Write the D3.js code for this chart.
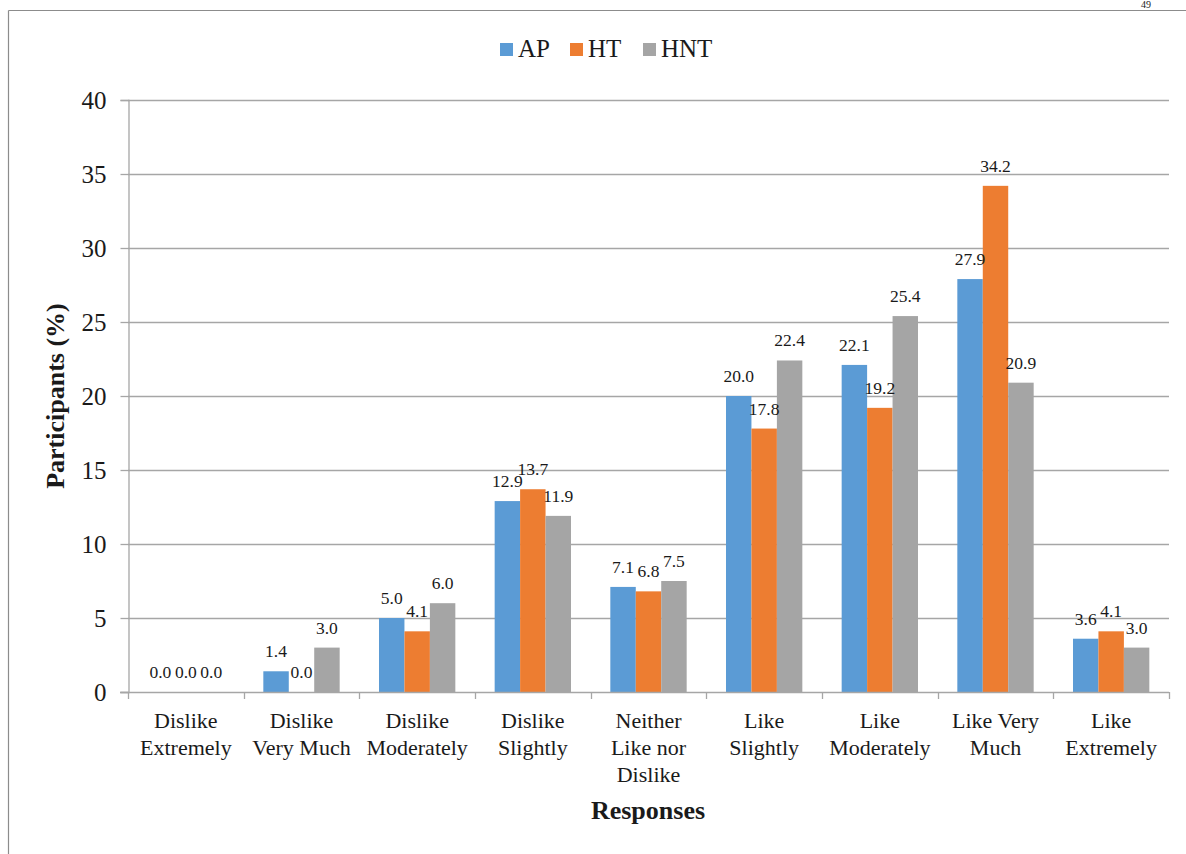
<!DOCTYPE html>
<html>
<head>
<meta charset="utf-8">
<script src="https://cdn.jsdelivr.net/npm/d3@7"></script>
<style>
  html, body { margin: 0; padding: 0; background: #fff; }
  svg { display: block; }
</style>
</head>
<body>
<svg id="chart" width="1186" height="854"></svg>
<script>
// Hedonic rating responses, percentage of participants per group
const categories = [
  "Dislike\nExtremely",
  "Dislike\nVery Much",
  "Dislike\nModerately",
  "Dislike\nSlightly",
  "Neither\nLike nor\nDislike",
  "Like\nSlightly",
  "Like\nModerately",
  "Like Very\nMuch",
  "Like\nExtremely"
];
const seriesNames = ["AP", "HT", "HNT"];
const apValues  = [0.0, 1.4, 5.0, 12.9, 7.1, 20.0, 22.1, 27.9, 3.6];
const htValues  = [0.0, 0.0, 4.1, 13.7, 6.8, 17.8, 19.2, 34.2, 4.1];
const hntValues = [0.0, 3.0, 6.0, 11.9, 7.5, 22.4, 25.4, 20.9, 3.0];
const yTicks = [0, 5, 10, 15, 20, 25, 30, 35, 40];

const seriesValues = [apValues, htValues, hntValues];
const colors = ["#5B9BD5", "#ED7D31", "#A5A5A5"];
const axisColor = "#a6a6a6";
const serif = "'Liberation Serif', 'Times New Roman', serif";
const ink = "#1a1a1a";

const svg = d3.select("#chart");

// apply the serif face to a text selection
function face(sel, size, weight) {
  return sel.style("font-family", serif).style("font-size", size + "px")
    .style("font-weight", weight || "normal").attr("fill", ink);
}

// outer frame of the figure
svg.append("line").attr("x1", 8.5).attr("x2", 8.5).attr("y1", 10.5).attr("y2", 854)
  .attr("stroke", "#8c8c8c").attr("stroke-width", 1.2);
svg.append("line").attr("x1", 8.5).attr("x2", 1186).attr("y1", 10.5).attr("y2", 10.5)
  .attr("stroke", "#8c8c8c").attr("stroke-width", 1.2);
face(svg.append("text").attr("x", 1146).attr("y", 8).attr("text-anchor", "middle"), 10)
  .text("49");

const plot = { left: 128, right: 1169, top: 100, bottom: 692 };

const x = d3.scaleBand().domain(categories).range([plot.left, plot.right]).paddingInner(0).paddingOuter(0);
const step = x.bandwidth();
const x1 = d3.scaleBand().domain(seriesNames).range([step * 0.17, step * 0.83]).padding(0);
const y = d3.scaleLinear().domain([0, 40]).range([plot.bottom, plot.top]);

// horizontal gridlines
svg.append("g").selectAll("line")
  .data(yTicks.filter(t => t > 0))
  .join("line")
  .attr("x1", plot.left).attr("x2", plot.right)
  .attr("y1", d => Math.round(y(d)) + 0.5).attr("y2", d => Math.round(y(d)) + 0.5)
  .attr("stroke", axisColor).attr("stroke-width", 1.3);

// y axis
const yAxis = svg.append("g").attr("transform", `translate(${plot.left + 0.5},0)`)
  .call(d3.axisLeft(y).tickValues(yTicks).tickSize(8).tickPadding(14).tickFormat(d3.format("d")));
yAxis.attr("font-family", null).attr("font-size", null);
yAxis.select(".domain").attr("stroke", axisColor).attr("stroke-width", 1.3);
yAxis.selectAll(".tick line").attr("stroke", axisColor).attr("stroke-width", 1.3);
face(yAxis.selectAll(".tick text"), 25);

// bars
const groups = svg.append("g").selectAll("g")
  .data(categories)
  .join("g")
  .attr("transform", d => `translate(${x(d)},0)`);

seriesNames.forEach((name, si) => {
  groups.append("rect")
    .attr("x", d => x1(name))
    .attr("width", x1.bandwidth())
    .attr("y", (d, i) => y(seriesValues[si][i]))
    .attr("height", (d, i) => y(0) - y(seriesValues[si][i]))
    .attr("fill", colors[si]);
});

// value labels above bars
seriesNames.forEach((name, si) => {
  face(groups.append("text")
    .attr("x", d => x1(name) + x1.bandwidth() / 2)
    .attr("y", (d, i) => y(seriesValues[si][i]) - 14)
    .attr("text-anchor", "middle"), 17.5)
    .text((d, i) => d3.format(".1f")(seriesValues[si][i]));
});

// x axis line
const xAxis = svg.append("g").attr("transform", `translate(0,${plot.bottom + 0.5})`)
  .call(d3.axisBottom(x).tickSize(0).tickFormat(""));
xAxis.select(".domain").attr("stroke", axisColor).attr("stroke-width", 1.3)
  .attr("d", `M${plot.left - 8},0H${plot.right}`);
xAxis.selectAll(".tick").remove();

// category dividers below the axis
svg.append("g").selectAll("line")
  .data(d3.range(categories.length + 1))
  .join("line")
  .attr("x1", i => Math.round(plot.left + i * step) + 0.5)
  .attr("x2", i => Math.round(plot.left + i * step) + 0.5)
  .attr("y1", plot.bottom).attr("y2", plot.bottom + 7)
  .attr("stroke", axisColor).attr("stroke-width", 1.3);

// category labels
const catLabels = face(svg.append("g").selectAll("text")
  .data(categories)
  .join("text")
  .attr("text-anchor", "middle")
  .attr("transform", d => `translate(${x(d) + step / 2},${plot.bottom + 36})`), 22);
catLabels.each(function(d) {
  d3.select(this).selectAll("tspan")
    .data(d.split("\n"))
    .join("tspan")
    .attr("x", 0)
    .attr("y", (l, i) => i * 27)
    .text(l => l);
});

// axis titles
face(svg.append("text")
  .attr("transform", `translate(64,${(plot.top + plot.bottom) / 2}) rotate(-90)`)
  .attr("text-anchor", "middle"), 26, "bold")
  .text("Participants (%)");

face(svg.append("text")
  .attr("x", 648).attr("y", 819)
  .attr("text-anchor", "middle"), 26, "bold")
  .text("Responses");

// legend
const legendX = [500, 570, 643];
const legend = svg.append("g").selectAll("g")
  .data(seriesNames)
  .join("g")
  .attr("transform", (d, i) => `translate(${legendX[i]},43)`);
legend.append("rect").attr("width", 13).attr("height", 13).attr("fill", (d, i) => colors[i]);
face(legend.append("text").attr("x", 18).attr("y", 14), 25).text(d => d);
</script>
</body>
</html>
